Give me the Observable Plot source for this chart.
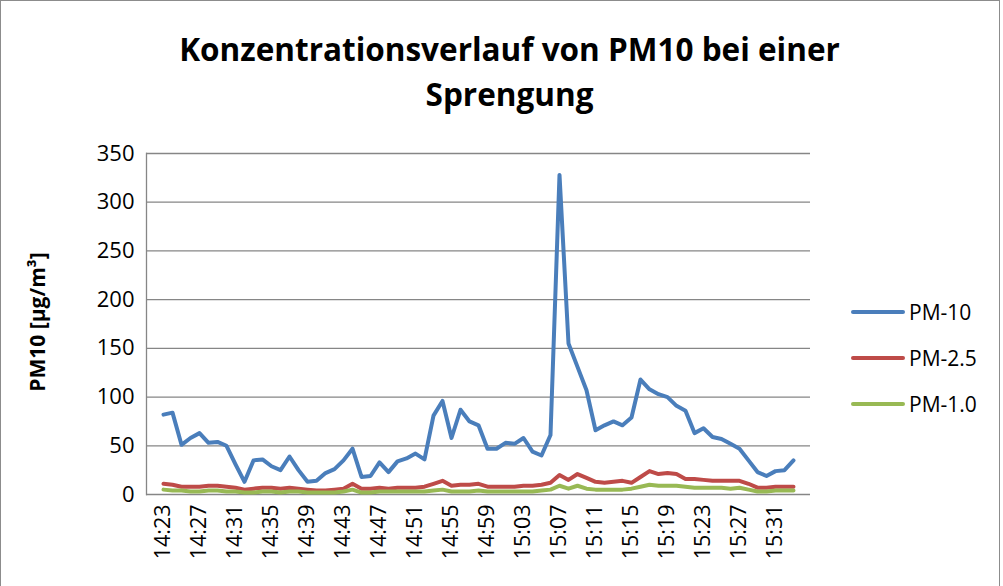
<!DOCTYPE html>
<html><head><meta charset="utf-8">
<script src="https://cdn.jsdelivr.net/npm/d3@7"></script>
<script src="https://cdn.jsdelivr.net/npm/@observablehq/plot@0.6"></script>
<style>
body{margin:0;background:#fff;}
#wrap{position:relative;width:1003px;height:586px;overflow:hidden;font-family:"Open Sans",sans-serif;color:#000;}
#frame{position:absolute;left:0;top:0;width:1000px;height:600px;border:1px solid #8c8c8c;box-sizing:border-box;}
#title{position:absolute;left:8px;top:26px;width:1003px;text-align:center;font-weight:bold;font-size:31.5px;line-height:45px;}
#ylab{position:absolute;left:37px;top:322px;transform:translate(-50%,-50%) rotate(-90deg);font-weight:bold;font-size:21px;white-space:nowrap;}
#chart{position:absolute;left:0;top:0;}
.leg{position:absolute;left:851px;font-size:21px;display:flex;align-items:center;white-space:nowrap;}
.leg span.sw{display:inline-block;width:54px;height:4px;border-radius:2px;margin-right:4px;}
</style></head>
<body><div id="wrap"><div id="frame"></div><div id="chart"></div>
<div id="title">Konzentrationsverlauf von PM10 bei einer<br>Sprengung</div>
<div id="ylab">PM10 [µg/m³]</div>
<div id="legend"></div>
</div>
<script>
const times = ["14:23","14:24","14:25","14:26","14:27","14:28","14:29","14:30","14:31","14:32","14:33","14:34","14:35","14:36","14:37","14:38","14:39","14:40","14:41","14:42","14:43","14:44","14:45","14:46","14:47","14:48","14:49","14:50","14:51","14:52","14:53","14:54","14:55","14:56","14:57","14:58","14:59","15:00","15:01","15:02","15:03","15:04","15:05","15:06","15:07","15:08","15:09","15:10","15:11","15:12","15:13","15:14","15:15","15:16","15:17","15:18","15:19","15:20","15:21","15:22","15:23","15:24","15:25","15:26","15:27","15:28","15:29","15:30","15:31","15:32","15:33"];
const tickLabels = ["14:23","14:27","14:31","14:35","14:39","14:43","14:47","14:51","14:55","14:59","15:03","15:07","15:11","15:15","15:19","15:23","15:27","15:31"];
const yTicks = [0,50,100,150,200,250,300,350];
const seriesNames = ["PM-10","PM-2.5","PM-1.0"];
const seriesColors = ["#4A7EBB","#BE4B48","#98B954"];
const pm10 = [82,84,51,58,63,53,54,50,31,13,35,36,29,25,39,25,13,14,22,26,35,47,18,19,33,23,34,37,42,36,81,96,58,87,75,71,47,47,53,52,58,44,40,61,328,155,131,107,66,71,75,71,79,118,108,103,100,91,86,63,68,59,57,52,47,35,23,19,24,25,35];
const pm25 = [11,10,8,8,8,9,9,8,7,5,6,7,7,6,7,6,5,4,4,5,6,11,6,6,7,6,7,7,7,8,11,14,9,10,10,11,8,8,8,8,9,9,10,12,20,15,21,17,13,12,13,14,12,18,24,21,22,21,16,16,15,14,14,14,14,11,7,7,8,8,8];
const pm1 = [5,4,4,3,3,4,4,3,3,2,2,3,3,2,3,3,2,2,2,2,3,5,2,2,3,3,3,3,3,3,4,5,3,3,3,4,3,3,3,3,3,3,4,5,9,6,9,6,5,5,5,5,6,8,10,9,9,9,8,7,7,7,7,6,7,5,3,3,4,4,4];

const allSeries = [pm10, pm25, pm1];
const data = allSeries.flatMap((arr, k) => times.map((t, i) => ({t, v: arr[i], s: seriesNames[k]})));

const chart = Plot.plot({
  width: 1003, height: 586,
  marginLeft: 146, marginRight: 193, marginTop: 153, marginBottom: 92,
  style: {fontFamily: "Open Sans", fontSize: "21px", color: "#000", background: "transparent", overflow: "visible"},
  x: {type: "point", domain: times, padding: 0.5},
  y: {domain: [0, 350]},
  color: {domain: seriesNames, range: seriesColors},
  marks: [
    Plot.gridY(yTicks, {stroke: "#868686", strokeOpacity: 1, strokeWidth: 1.3}),
    Plot.frame({anchor: "left", stroke: "#868686", strokeWidth: 1.3}),
    Plot.axisY({ticks: yTicks, tickSize: 0, tickPadding: 12, label: null, fontSize: 22}),
    Plot.axisX({ticks: tickLabels, tickSize: 0, tickPadding: 10, tickRotate: -90, label: null, fontSize: 21.5}),
    Plot.line(data, {x: "t", y: "v", z: "s", stroke: "s", strokeWidth: 4, strokeLinejoin: "round", strokeLinecap: "round"})
  ]
});
document.getElementById("chart").appendChild(chart);

const legTop = [312, 358, 404];
const leg = document.getElementById("legend");
seriesNames.forEach((n, k) => {
  const d = document.createElement("div");
  d.className = "leg";
  d.style.top = (legTop[k] - 15) + "px";
  d.style.height = "30px";
  d.innerHTML = `<span class="sw" style="background:${seriesColors[k]}"></span>${n}`;
  leg.appendChild(d);
});
</script>
</body></html>
